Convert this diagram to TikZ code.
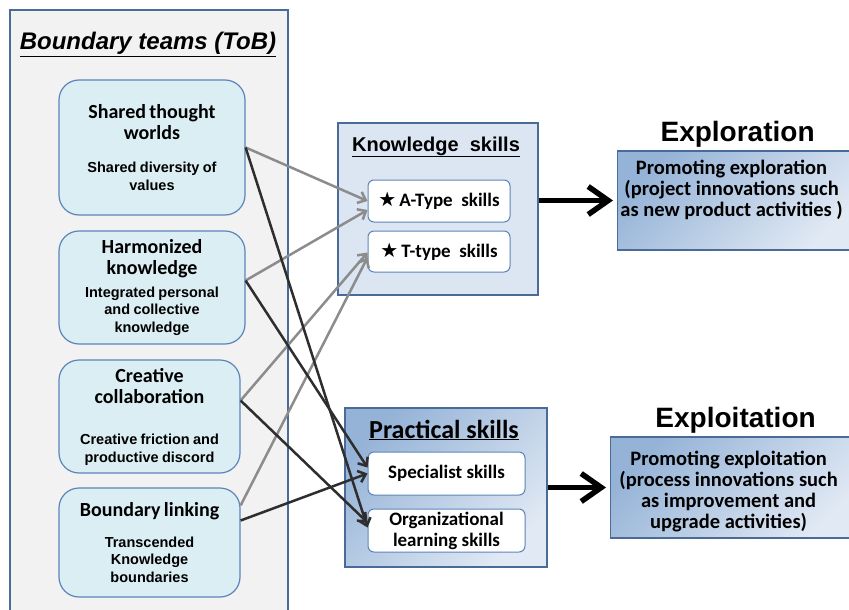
\documentclass[tikz,border=0pt]{standalone}
\usepackage{fontspec}
\setmainfont{Liberation Sans}
\newfontfamily\calfont{Carlito}
\newfontfamily\symfont{DejaVu Sans}
\usetikzlibrary{positioning,arrows.meta}

\definecolor{panelgray}{HTML}{F2F2F2}
\definecolor{frameblue}{HTML}{4A6A98}
\definecolor{teamfill}{HTML}{DBEEF4}
\definecolor{teamline}{HTML}{5B85B8}
\definecolor{skillfill}{HTML}{DCE6F2}
\definecolor{deepblue}{HTML}{95B3D7}
\definecolor{paleblue}{HTML}{E1E9F4}
\definecolor{weakgray}{HTML}{8C8C8C}
\definecolor{darkline}{HTML}{2E2E2E}

\newcommand{\teamhead}{\calfont\bfseries\fontsize{20}{21}\selectfont}
\newcommand{\teamsub}{\bfseries\fontsize{14.5}{17.5}\selectfont}
\newcommand{\bigstar}{{\symfont\fontsize{20}{20}\selectfont ★}\,}

\begin{document}
\begin{tikzpicture}[
        x=1pt, y=-1pt, % координаты в пикселях, ось y вниз
        panel/.style={draw=frameblue, line width=1.2pt, inner sep=0pt},
        team/.style={draw=teamline, line width=1.2pt, fill=teamfill, rounded corners=20pt,
                text width=176pt, align=center, inner sep=0pt, minimum width=186pt}, % блоки команд
        skill/.style={draw=teamline, line width=1pt, fill=white, rounded corners=6pt,
                align=center, inner sep=0pt, font=\calfont\bfseries\fontsize{19}{21}\selectfont},
        grad/.style={top color=deepblue, bottom color=paleblue, shading angle=45},
        head/.style={font=\bfseries\fontsize{20}{22}\selectfont, anchor=base},
        goal/.style={font=\bfseries\fontsize{28}{30}\selectfont, inner sep=0pt},
        gtext/.style={align=center, inner sep=0pt, font=\calfont\bfseries\fontsize{20.5}{21}\selectfont},
        weak/.style={draw=weakgray, line width=2.5pt, -{Straight Barb[length=7pt, width=12pt]}},
        strong/.style={draw=darkline, line width=2.5pt, -{Straight Barb[length=7pt, width=12pt]}},
        fat/.style={draw=black, line width=5.5pt, -{Straight Barb[length=20pt, width=28pt]}, shorten >=4pt},
    ]
    \useasboundingbox (0,0) rectangle (849,610);

    % команды границ
    \node[panel, fill=panelgray, minimum width=278pt, minimum height=620pt] (bound) at (149,320) {};
    \node[font=\bfseries\itshape\fontsize{24}{26}\selectfont, anchor=base] at (148,50) {\underline{Boundary teams (ToB)}};

    \node[team, minimum height=135pt] (shared) at (152,147.5)
        {{\teamhead Shared thought\\worlds\par}\vspace{16pt}{\teamsub Shared diversity of\\values\par}};
    \node[team, minimum height=113pt] (harm) at (152,287.5)
        {{\teamhead Harmonized\\knowledge\par}\vspace{5pt}{\teamsub Integrated personal\\and collective\\knowledge\par}};
    \node[team, minimum width=181pt, minimum height=113pt] (creat) at (149.5,416.5)
        {{\teamhead Creative\\collaboration\par}\vspace{24pt}{\teamsub Creative friction and\\productive discord\par}};
    \node[team, minimum width=181pt, minimum height=109pt] (link) at (149.5,542.5)
        {{\teamhead Boundary linking\par}\vspace{13pt}{\teamsub Transcended\\Knowledge\\boundaries\par}};

    % навыки
    \node[panel, fill=skillfill, minimum width=200pt, minimum height=172pt] (know) at (438,209) {};
    \node[head] at (436,151) {\underline{Knowledge\ \ skills}};
    \node[skill, minimum width=142pt, minimum height=42pt] (atype) at (439,201) {\bigstar A-Type\ \ skills};
    \node[skill, minimum width=142pt, minimum height=41pt] (ttype) at (439,251.5) {\bigstar T-type\ \ skills};

    \node[panel, grad, minimum width=202pt, minimum height=159pt] (prac) at (446,487.5) {};
    \node[head, font=\calfont\bfseries\fontsize{26}{28}\selectfont] at (444,438) {\underline{Practical skills}};
    \node[skill, minimum width=157pt, minimum height=43pt] (spec) at (446.5,473.5) {Specialist skills};
    \node[skill, minimum width=157pt, minimum height=43pt] (org) at (446.5,530.5) {Organizational\\learning skills};

    % результаты
    \node[panel, grad, minimum width=240pt, minimum height=99pt, anchor=west] (explor) at (617,200.5) {};
    \node[goal, above=3pt of explor.north] {Exploration};
    \node[gtext, below=9pt of explor.north, xshift=-6pt]
        {Promoting exploration\\(project innovations such\\as new product activities )};
    \node[panel, grad, minimum width=250pt, minimum height=101pt, anchor=west] (exploit) at (610,487.5) {};
    \node[goal, above=3pt of exploit.north] {Exploitation};
    \node[gtext, below=14pt of exploit.north, xshift=-7pt]
        {Promoting exploitation\\(process innovations such\\as improvement and\\upgrade activities)};

    % связи
    \draw[weak] (shared.east) -- (atype.west);
    \draw[weak] ([yshift=7pt]harm.east) -- ([yshift=-9pt]atype.west);
    \draw[weak] ([yshift=16pt]creat.east) -- ([yshift=-1pt]ttype.west);
    \draw[weak] ([yshift=37pt]link.east) -- ([yshift=-6pt]ttype.west);
    \draw[strong] (shared.east) -- ([yshift=3pt]org.west);
    \draw[strong] ([yshift=7pt]harm.east) -- ([yshift=6pt]spec.west);
    \draw[strong] ([yshift=16pt]creat.east) -- ([yshift=8pt]org.west);
    \draw[strong] ([yshift=22pt]link.east) -- (spec.west);
    \draw[fat] (know.east |- explor.west) -- (explor.west);
    \draw[fat] (prac.east) -- (exploit.west);
\end{tikzpicture}
\end{document}
